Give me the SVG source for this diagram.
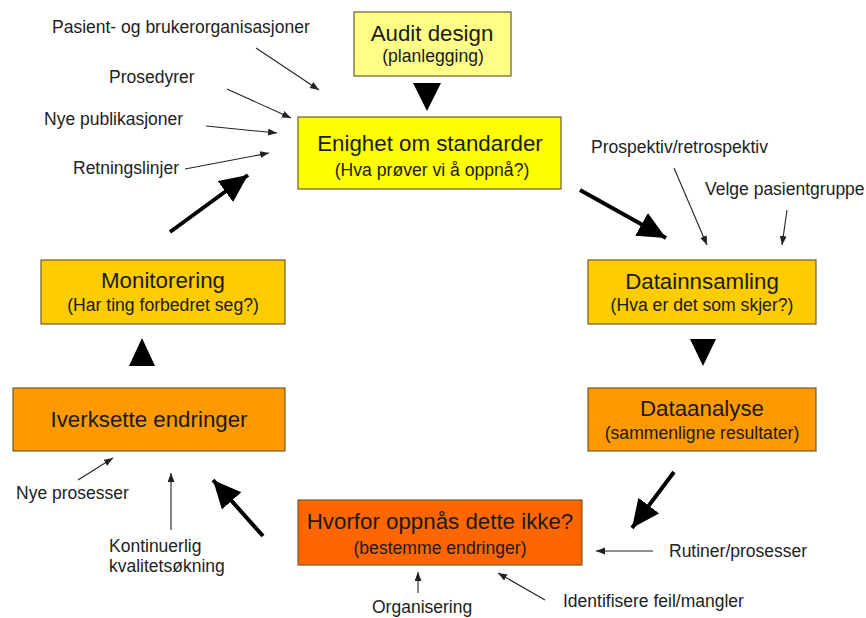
<svg xmlns="http://www.w3.org/2000/svg" width="866" height="618" viewBox="0 0 866 618">
<style>
  text { font-family: "Liberation Sans", Arial, sans-serif; fill: #1a1a1a; }
  .t { font-size: 22.3px; text-anchor: middle; }
  .s { font-size: 17.6px; text-anchor: middle; }
  .l { font-size: 17.5px; fill: #222; }
  .box { stroke: #6e5a2e; stroke-width: 1.2; }
  .big { stroke: #000; stroke-width: 4; fill: none; marker-end: url(#bighead); }
  .thin { stroke: #222; stroke-width: 1.1; fill: none; marker-end: url(#smallhead); }
  .tri { fill: #000; }
</style>
<defs>
  <marker id="bighead" markerUnits="userSpaceOnUse" markerWidth="30" markerHeight="28" refX="28" refY="13" orient="auto">
    <path d="M0,0 L28,13 L0,26 z" fill="#000"/>
  </marker>
  <marker id="smallhead" markerUnits="userSpaceOnUse" markerWidth="10" markerHeight="8" refX="9" refY="3.5" orient="auto">
    <path d="M0,0 L9,3.5 L0,7 z" fill="#222"/>
  </marker>
</defs>
<rect width="866" height="618" fill="#fff"/>

<g id="audit">
  <rect class="box" x="354" y="12" width="157" height="64" fill="#ffff88"/>
  <text class="t" x="432" y="41">Audit design</text>
  <text class="s" x="433" y="62">(planlegging)</text>
</g>
<g id="enighet">
  <rect class="box" x="298" y="117" width="263" height="72" fill="#ffff00"/>
  <text class="t" x="430" y="151">Enighet om standarder</text>
  <text class="s" x="432" y="176">(Hva prøver vi å oppnå?)</text>
</g>
<g id="datainnsamling">
  <rect class="box" x="588" y="260" width="228" height="64" fill="#ffcc00"/>
  <text class="t" x="702" y="289">Datainnsamling</text>
  <text class="s" x="702" y="311">(Hva er det som skjer?)</text>
</g>
<g id="dataanalyse">
  <rect class="box" x="588" y="388" width="228" height="63" fill="#ff9900"/>
  <text class="t" x="702" y="416">Dataanalyse</text>
  <text class="s" x="702" y="439">(sammenligne resultater)</text>
</g>
<g id="hvorfor">
  <rect class="box" x="298" y="500" width="284" height="65" fill="#ff6600"/>
  <text class="t" x="440" y="529">Hvorfor oppnås dette ikke?</text>
  <text class="s" x="440" y="554">(bestemme endringer)</text>
</g>
<g id="iverksette">
  <rect class="box" x="13" y="388" width="272" height="63" fill="#ff9900"/>
  <text class="t" x="149" y="427">Iverksette endringer</text>
</g>
<g id="monitorering">
  <rect class="box" x="41" y="260" width="244" height="64" fill="#ffcc00"/>
  <text class="t" x="163" y="288">Monitorering</text>
  <text class="s" x="163" y="311">(Har ting forbedret seg?)</text>
</g>

<g id="labels">
  <text class="l" x="52" y="33">Pasient- og brukerorganisasjoner</text>
  <text class="l" x="109" y="83">Prosedyrer</text>
  <text class="l" x="44" y="125">Nye publikasjoner</text>
  <text class="l" x="73" y="174">Retningslinjer</text>
  <text class="l" x="591" y="153">Prospektiv/retrospektiv</text>
  <text class="l" x="705" y="195">Velge pasientgruppe</text>
  <text class="l" x="16" y="499">Nye prosesser</text>
  <text class="l" x="109" y="552">Kontinuerlig</text>
  <text class="l" x="109" y="572">kvalitetsøkning</text>
  <text class="l" x="372" y="613">Organisering</text>
  <text class="l" x="669" y="557">Rutiner/prosesser</text>
  <text class="l" x="563" y="607">Identifisere feil/mangler</text>
</g>

<g id="connectors">
  <polygon class="tri" points="413,83 441,83 427,111"/>
  <line class="big" x1="580" y1="190" x2="666" y2="238"/>
  <polygon class="tri" points="690,339 716,339 703,366"/>
  <line class="big" x1="674" y1="472" x2="632" y2="528"/>
  <line class="big" x1="263" y1="536" x2="213" y2="480"/>
  <polygon class="tri" points="129,366 155,366 142,338"/>
  <line class="big" x1="170" y1="232" x2="248" y2="175"/>

  <line class="thin" x1="256" y1="48" x2="319" y2="90"/>
  <line class="thin" x1="227" y1="89" x2="291" y2="118"/>
  <line class="thin" x1="206" y1="126" x2="277" y2="133"/>
  <line class="thin" x1="185" y1="169" x2="269" y2="153"/>
  <line class="thin" x1="674" y1="168" x2="707" y2="245"/>
  <line class="thin" x1="787" y1="210" x2="782" y2="245"/>
  <line class="thin" x1="78" y1="480" x2="113" y2="458"/>
  <line class="thin" x1="171" y1="530" x2="171" y2="473"/>
  <line class="thin" x1="418" y1="593" x2="418" y2="572"/>
  <line class="thin" x1="653" y1="551" x2="596" y2="551"/>
  <line class="thin" x1="545" y1="600" x2="498" y2="573"/>
</g>
</svg>
